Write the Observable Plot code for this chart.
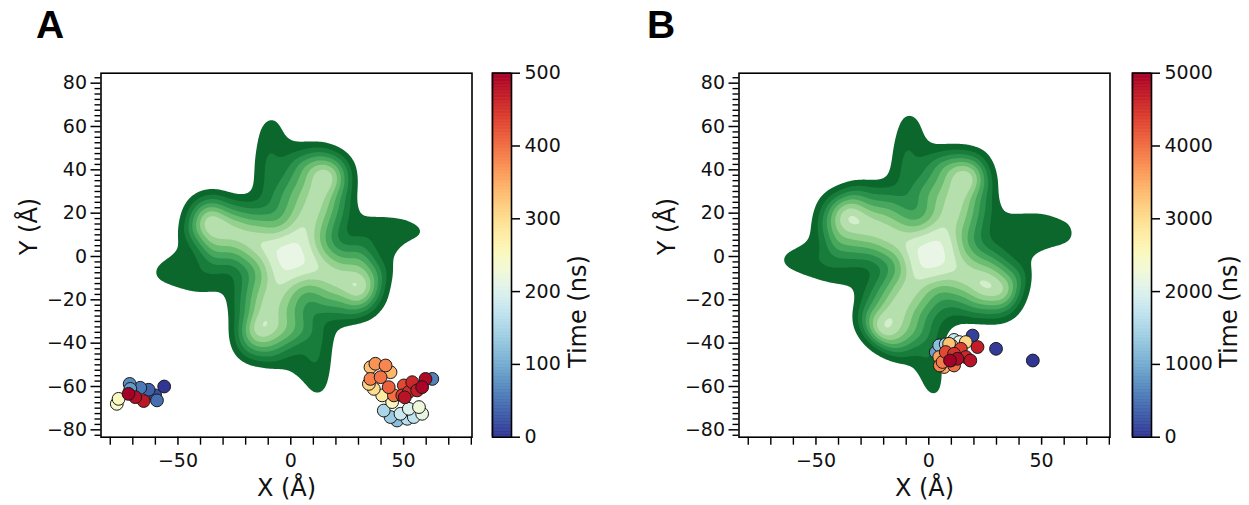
<!DOCTYPE html>
<html><head><meta charset="utf-8">
<script src="https://cdn.jsdelivr.net/npm/d3@7"></script>
<script src="https://cdn.jsdelivr.net/npm/@observablehq/plot@0.6"></script>
<style>
html,body{margin:0;padding:0;background:#fff;}
#root{position:relative;width:1249px;height:505px;overflow:hidden;background:#fff;}
#root svg{position:absolute;top:0;max-width:none;}
.letter{position:absolute;top:5px;font-family:"Liberation Sans",Arial,sans-serif;font-weight:bold;font-size:39px;line-height:1;color:#000;}
</style></head><body><div id="root"></div>
<script>
// ---------- tick labels ----------
const xTicks = [-50, 0, 50];
const xMinorTicks = [-80, -70, -60, -40, -30, -20, -10, 10, 20, 30, 40, 60, 70, 80];
const yTicks = [-80, -60, -40, -20, 0, 20, 40, 60, 80];
const timeTicksA = [0, 100, 200, 300, 400, 500];
const timeTicksB = [0, 1000, 2000, 3000, 4000, 5000];

// ---------- panel A: trajectory points (X, Y in Å; time in ns) ----------
const trajA_x = [-56.1, -60.1, -63.0, -59.3, 62.7, -66.7, -71.4, -71.1, 47.1, 44.2, 41.2, 51.6, 54.5, 48.6, 52.3, 58.2, 56.8, -77.1, -76.3, 44.9, 40.5, 36.8, 34.6, 35.3, 44.2, 37.5, 42.0, 35.3, 39.8, 45.7, 43.4, 50.1, 49.4, 52.3, 53.8, 56.0, -65.2, -68.9, 59.7, 58.2, 50.5, -71.9];
const trajA_y = [-60.0, -64.1, -61.5, -66.4, -56.5, -60.6, -58.8, -61.1, -75.7, -74.1, -71.1, -74.9, -74.1, -72.6, -70.3, -72.6, -69.5, -68.0, -65.7, -67.2, -64.1, -61.1, -58.8, -51.1, -53.4, -49.5, -50.3, -56.5, -55.7, -64.1, -60.3, -59.5, -64.1, -62.5, -58.0, -61.8, -66.7, -64.9, -56.5, -60.3, -65.0, -63.4];
const trajA_t = [0, 20, 35, 45, 60, 55, 70, 85, 120, 135, 150, 160, 170, 180, 200, 215, 225, 240, 250, 255, 280, 300, 310, 330, 340, 370, 380, 385, 395, 400, 410, 430, 445, 455, 460, 470, 475, 485, 490, 495, 480, 500];

// ---------- panel B: trajectory points ----------
const trajB_x = [46.1, 29.8, 19.4, 3.1, 4.6, 7.5, 11.2, 13.5, 10.0, 16.4, 9.0, 6.8, 4.6, 4.9, 6.1, 11.2, 9.8, 7.5, 14.2, 11.2, 16.4, 21.6, 18.4, 12.7, 9.4];
const trajB_y = [-48.0, -42.6, -36.5, -44.2, -41.0, -40.5, -38.5, -39.5, -41.0, -39.5, -40.3, -51.0, -46.4, -50.3, -48.7, -50.3, -48.0, -44.1, -42.6, -44.9, -46.4, -41.8, -48.0, -47.2, -48.0];
const trajB_t = [0, 40, 80, 900, 1200, 1500, 1800, 2100, 2600, 3100, 3300, 3500, 3600, 3800, 3900, 4000, 4200, 4300, 4400, 4500, 4600, 4700, 4800, 4900, 5000];

// ---------- density map ----------
// contour levels (1 = outermost dark band ... 9 = lightest core)
const densityLevels = [1, 2, 3, 4, 5, 6, 7, 8, 9];
const densityColors = ["#0b672c", "#187c3a", "#2c914d", "#46a75d", "#6bbd72", "#94d08e", "#b6dfae", "#d3eecb", "#eaf6e5"];

// outer edge of the density (level 1), panel A
const edgeA = [[-8.5,66],[-4,62],[-2,55],[3,53.5],[9,52],[15,51.5],[21,49.5],[25.5,46],[28,41],[28.5,35],[28,28],[28.5,22],[31,19.5],[37,18.5],[43,18],[50,17.4],[55,15.5],[61,12.5],[60,9.5],[54,8],[50,5.9],[46.5,0],[44,-5],[43,-12],[41.5,-19],[38,-25],[34,-28.5],[28,-30],[22.5,-31],[19.5,-35],[18,-41],[17.5,-47],[17,-53],[16,-61],[13,-66],[10,-64.5],[7,-59.5],[3,-55.5],[-2,-52.5],[-7,-51],[-12,-50],[-17.5,-49.5],[-22,-47],[-25,-43],[-26,-37],[-26,-30],[-27,-23],[-28.5,-16.5],[-33,-16.5],[-40,-17],[-48,-15],[-54,-13],[-59.5,-11.5],[-62,-8],[-60,-4],[-55,-1],[-51,3],[-49,10],[-47.5,18],[-46,23],[-43,27],[-38.5,29.7],[-33,30.2],[-28,28.5],[-23.5,27.4],[-19,26.8],[-16,30],[-15,36],[-15,42],[-14.5,49],[-14,55],[-12.5,62]];
// empty points just outside the edge, panel A
const emptyA = [[-8.5,71],[-17,64],[0,64],[0,58],[6,57],[15,56],[25,51],[31,45],[32,32],[33,24],[40,23],[50,22],[58,19],[65,12],[63,6],[52,2],[50,-6],[47,-14],[46,-24],[39,-32],[29,-35],[24,-37],[22,-45],[21,-55],[20,-63],[13,-70],[5,-67],[-1,-58],[-8,-56],[-17,-54],[-26,-50],[-30,-40],[-31,-29],[-32,-22],[-38,-22],[-47,-20],[-55,-17],[-64,-13],[-66,-6],[-62,1],[-55,5],[-53,13],[-52,22],[-47,31],[-38,34],[-28,33],[-21,32],[-20,40],[-19,50],[-18,60]];
// interior levels, panel A: [x, y, level]
const innerA = [[0,0,9.6],[4,9.2,9.3],[-9.1,4,9.3],[-3.9,-9.2,9.3],[9,-4.4,9.3],[9.3,3.6,8.6],[-3.6,9.3,8.6],[-9.3,-3.6,8.6],[3.6,-9.3,8.6],
  [8,18,8.4],[12,27,8.4],[-18,8,8.4],[-27,12,8.4],[-7,-16,8.4],[-11,-25,8.4],[15,-7,8.4],[23,-11,8.4],
  [16,37,9.5],[-36,16,9.5],[-14,-33,9.5],[31,-15,9.5],
  [14,5.4,5.3],[20,8,2.8],[25,8,1.5],[32,10,1.8],[40,12,2.2],[47,12.5,2.1],[54,12,1.7],
  [-5.4,14,5.3],[-8,21,3.3],[-11,28,2.3],[-12,36,2.6],[-12,44,2.6],[-11,52,2.2],[-10,59,1.7],[-3,46,1.7],
  [-14,-5.4,5.3],[-21,-8,2.8],[-27,-7,1.5],[-35,-8,1.9],[-42,-9,2.3],[-49,-9,2.1],[-56,-8,1.7],
  [5.4,-14,5.3],[8,-21,3.3],[11,-28,2.3],[12,-36,2.6],[12,-44,2.6],[13,-52,2.2],[13,-59,1.7]];

// panel B
const edgeB = [[-8.5,68],[-3.5,63],[-2,55],[2,51],[8,50.5],[14,50.5],[20,49.5],[25,47],[27.5,42],[29,36],[29.5,30],[30.5,24],[34,21],[41,20.5],[48,20.5],[54,19.5],[61,16],[65.5,11],[63.5,6],[56,4.5],[50,3],[46,0],[44.5,-5],[44,-11],[42.5,-18],[39,-25.5],[34,-29.5],[28,-30.5],[21,-30],[15,-29.5],[10,-32],[7,-36],[6,-42],[5.5,-48],[6,-57],[4,-66.5],[-0.5,-64],[-3,-57],[-5.5,-51],[-10,-48.5],[-16.5,-46.5],[-22,-43.5],[-27.5,-38.8],[-31.5,-33],[-32.5,-27],[-31.5,-20],[-31,-16],[-36,-14],[-42,-12.6],[-48,-11],[-54,-9],[-59,-7],[-65,-5],[-67,-1],[-64,2.5],[-57,4.8],[-53,8],[-51,13],[-50,19],[-48,25],[-44,29.5],[-39,31.8],[-34,34],[-28,34.5],[-21.5,34.3],[-17,36.5],[-15.5,42],[-15,48],[-14.5,54],[-13,63]];
const emptyB = [[-8.5,73],[-16,68],[0,66],[3,57],[10,56],[20,55],[28,52],[33,42],[34,30],[36,25],[42,25],[50,25],[58,22],[68.5,13],[68,5],[58,0],[50,-3],[49,-12],[47,-21],[43,-31],[33,-35],[24,-34],[16,-35],[11,-40],[10,-48],[10,-56],[10,-66],[4,-71],[-4,-68],[-8,-57],[-13,-54],[-22,-50],[-30,-45],[-37,-34],[-37,-25],[-36,-20],[-44,-18],[-52,-15],[-60,-12],[-70,-5],[-69,3],[-60,8],[-56,13],[-55,20],[-53,29],[-47,34],[-38,37],[-28,39],[-21,40],[-20,47],[-19,55],[-17,63]];
const innerB = [[1.5,0.5,9.6],[5.5,9.6,9.3],[-8,4.8,9.3],[-4,-8,9.3],[9.8,-5,9.3],[11,3.5,8.6],[-2,10,8.6],[-8,-2.5,8.6],[4,-9,8.6],
  [7.5,14,8.4],[12,25,8.4],[-11,6.5,8.4],[-24,13,8.4],[-6,-11,8.4],[-14,-23,8.4],[11,-5,8.4],[18,-9.5,8.4],
  [17.2,36.6,9.5],[-36.1,19,9.5],[-21.3,-34.1,9.5],[26,-13.5,9.5],[33,-16,8.5],
  [15.8,4.9,5.3],[22.5,7,2.8],[28,7,1.5],[36,9,1.8],[45,10,2.2],[53,11.5,2.1],[60,11,1.7],
  [-3.6,14.6,5.3],[-6,21,3.3],[-12,30,2.3],[-13,38,2.6],[-12,46,2.6],[-11,54,2.2],[-10,61,1.7],[-3,46,1.7],
  [-13,-3.4,5.3],[-19.7,-5.2,2.8],[-27,-5,1.5],[-36,-4,1.9],[-44,-3,2.3],[-51,-2,2.2],[-60,-1.5,1.7],
  [4.9,-14.1,5.3],[6.4,-21,3.3],[3,-30,2.3],[1.5,-38,2.6],[0,-45,2.6],[0,-52,2.2],[1.5,-60,1.7]];
// empty background points shared by both panels
const emptyFar = [[-84.1,84.6],[-40,84.6],[0,84.6],[40,84.6],[80.3,84.6],[80.3,40],[80.3,0],[80.3,-40],[80.3,-83.4],[40,-83.4],[0,-83.4],[-40,-83.4],[-84.1,-83.4],[-84.1,-40],[-84.1,0],[-84.1,40],[-40,60],[40,60],[60,40],[60,-40],[40,-60],[-40,-60],[-60,-40],[-60,40],[-74,20],[-76,-20],[74,25],[74,-20],[20,74],[-28,74],[25,-74],[-20,-74]];

// ---------- layout constants ----------
const H = 505, MT = 72.7, MB = 68.3;
const xDomain = [-84.1, 80.3], yDomain = [-83.4, 84.6];
const FONT = "DejaVu Sans";
const fmt = d => (d < 0 ? "\u2212" + Math.abs(d) : String(d));
const yMinor = d3.range(-82.5, 83, 2.5).filter(v => Math.abs(v % 20) > 1e-6);
const root = document.getElementById("root");

function place(el, left) { el.style.left = left + "px"; root.appendChild(el); }

function panel({left, edge, empty, inner, trajX, trajY, trajT, tmax, timeTicks, cbLeft, cbLabelDx, letter, letterLeft}) {
  const plotW = 480, mL = 100.5, mR = 8.5;
  const samples = [
    ...edge.map(([x, y]) => ({x, y, v: 1.05})),
    ...empty.map(([x, y]) => ({x, y, v: 0})),
    ...emptyFar.map(([x, y]) => ({x, y, v: 0})),
    ...inner.map(([x, y, v]) => ({x, y, v}))
  ];
  const traj = trajX.map((x, i) => ({x, y: trajY[i], t: trajT[i]}));
  const common = {width: plotW, height: H, marginLeft: mL, marginRight: mR, marginTop: MT, marginBottom: MB,
    x: {domain: xDomain}, y: {domain: yDomain}};
  const base = Plot.plot({
    ...common,
    style: {fontFamily: FONT, background: "transparent"},
    color: {type: "ordinal", domain: densityLevels, range: densityColors},
    marks: [
      Plot.contour(samples, {x: "x", y: "y", fill: "v", interpolate: "barycentric", thresholds: densityLevels,
        blur: 4, pixelSize: 1.5, stroke: "none", clip: true}),
      Plot.axisY({ticks: yMinor, tickSize: 6, strokeWidth: 1.4, tickFormat: () => "", label: null}),
      Plot.axisY({ticks: yTicks, tickSize: 10, tickPadding: 4, strokeWidth: 1.5, fontSize: 19, tickFormat: fmt, label: null, fill: "#111"}),
      Plot.axisX({ticks: xMinorTicks, tickSize: 8, strokeWidth: 1.4, tickFormat: () => "", label: null}),
      Plot.axisX({ticks: xTicks, tickSize: 8, tickPadding: 8, strokeWidth: 1.5, fontSize: 19, tickFormat: fmt, label: null, fill: "#111"}),
      Plot.frame({stroke: "#000", strokeWidth: 1.6}),
      Plot.text(["X (\u00c5)"], {text: d => d, frameAnchor: "bottom", dy: 58.5, lineAnchor: "bottom", fontSize: 24, fill: "#111"}),
      Plot.text(["Y (\u00c5)"], {text: d => d, frameAnchor: "left", dx: -64, rotate: -90, lineAnchor: "bottom", fontSize: 24, fill: "#111"})
    ]
  });
  place(base, left);

  const dots = Plot.plot({
    ...common,
    style: {background: "transparent"},
    axis: null,
    color: {type: "linear", scheme: "rdylbu", reverse: true, domain: [0, tmax]},
    marks: [
      Plot.dot(traj, {x: "x", y: "y", fill: "t", r: 6.4, stroke: "#1a1a1a", strokeWidth: 1})
    ]
  });
  place(dots, left);

  // colour bar
  const cbW = 19, cbPlotW = 140, cbML = 12;
  const step = tmax / 250;
  const steps = d3.range(0, tmax, step);
  const cb = Plot.plot({
    width: cbPlotW, height: H, marginLeft: cbML, marginRight: cbPlotW - cbML - cbW, marginTop: MT, marginBottom: MB,
    style: {fontFamily: FONT, background: "transparent"},
    x: {domain: [0, 1], axis: null},
    y: {domain: [0, tmax]},
    color: {type: "linear", scheme: "rdylbu", reverse: true, domain: [0, tmax]},
    marks: [
      Plot.rect(steps, {x1: 0, x2: 1, y1: d => d, y2: d => Math.min(tmax, d + step), fill: d => d + step / 2, stroke: d => d + step / 2, strokeWidth: 0.6}),
      Plot.frame({stroke: "#000", strokeWidth: 1.6}),
      Plot.axisY({anchor: "right", ticks: timeTicks, tickSize: 8, tickPadding: 5, strokeWidth: 1.5, fontSize: 19, tickFormat: fmt, label: null, fill: "#111"}),
      Plot.text(["Time (ns)"], {text: d => d, frameAnchor: "right", dx: cbLabelDx, rotate: -90, lineAnchor: "bottom", fontSize: 24, fill: "#111"})
    ]
  });
  place(cb, cbLeft - cbML);

  const L = document.createElement("div");
  L.className = "letter";
  L.textContent = letter;
  L.style.left = letterLeft + "px";
  root.appendChild(L);
}

panel({left: 0, edge: edgeA, empty: emptyA, inner: innerA, trajX: trajA_x, trajY: trajA_y, trajT: trajA_t,
  tmax: 500, timeTicks: timeTicksA, cbLeft: 491.7, cbLabelDx: 74, letter: "A", letterLeft: 36});
panel({left: 638, edge: edgeB, empty: emptyB, inner: innerB, trajX: trajB_x, trajY: trajB_y, trajT: trajB_t,
  tmax: 5000, timeTicks: timeTicksB, cbLeft: 1132, cbLabelDx: 85, letter: "B", letterLeft: 647});
</script></body></html>
